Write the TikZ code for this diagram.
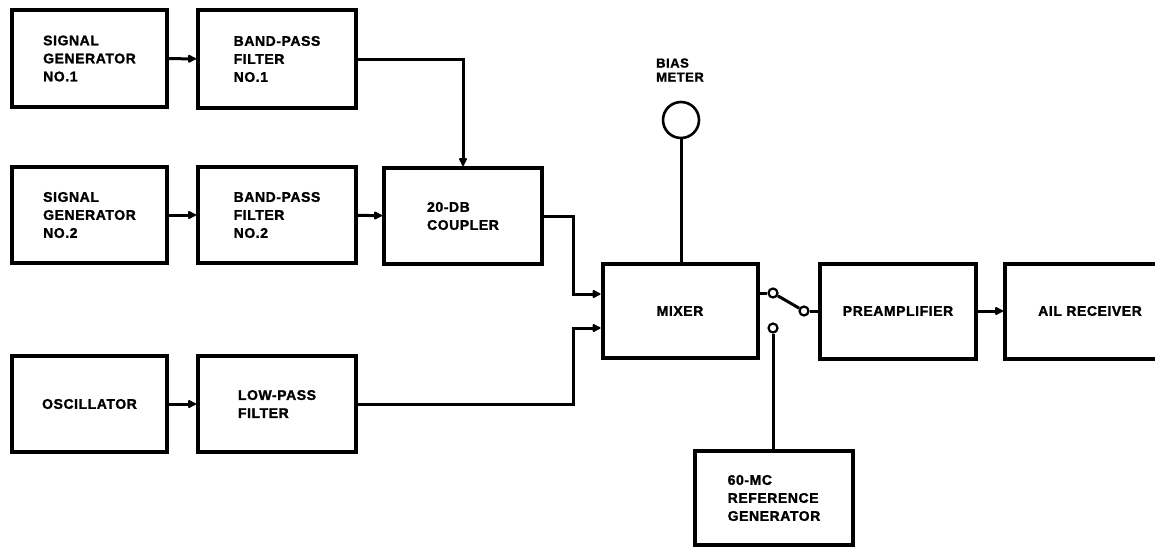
\documentclass[tikz,border=0pt]{standalone}
\usepackage{fontspec}
\newfontfamily\lbl{Liberation Sans Bold}[LetterSpace=4,FakeBold=1.5]
\usetikzlibrary{arrows.meta}
\begin{document}
\begin{tikzpicture}[x=1pt,y=-1pt,
  blk/.style={draw, line width=4pt, inner sep=0pt, align=left,
    font=\lbl\fontsize{14}{18}\selectfont},
  wire/.style={line width=3pt},
  arr/.style={wire, -{Latex[length=10pt,width=10pt,round]}},
  sw/.style={circle, draw, fill=white, line width=2.2pt, inner sep=0pt, minimum size=9pt},
  lbltext/.style={align=left, inner sep=0pt, font=\lbl\fontsize{13}{14}\selectfont}]
\useasboundingbox (0,0) rectangle (1155,547);
% blocks
\node[blk, minimum width=155pt, minimum height=97pt] (sg1) at (89.5,58.5) {SIGNAL\\GENERATOR\\NO.1};
\node[blk, minimum width=158pt, minimum height=98pt] (bpf1) at (277,59) {BAND-PASS\\FILTER\\NO.1};
\node[blk, minimum width=155pt, minimum height=96pt] (sg2) at (89.5,215) {SIGNAL\\GENERATOR\\NO.2};
\node[blk, minimum width=158pt, minimum height=96pt] (bpf2) at (277,215) {BAND-PASS\\FILTER\\NO.2};
\node[blk, minimum width=158pt, minimum height=96pt] (cpl) at (463,216) {20-DB\\COUPLER};
\node[blk, minimum width=155pt, minimum height=96pt] (osc) at (89.5,404) {OSCILLATOR};
\node[blk, minimum width=158pt, minimum height=96pt] (lpf) at (277,404) {LOW-PASS\\FILTER};
\node[blk, minimum width=155pt, minimum height=94pt] (mix) at (680,311) {MIXER};
\node[blk, minimum width=156pt, minimum height=95pt] (pre) at (898,311) {PREAMPLIFIER};
\node[blk, minimum width=170pt, minimum height=95pt] (ail) at (1090,311) {AIL RECEIVER};
\node[blk, minimum width=158pt, minimum height=94pt] (ref) at (774,498) {60-MC\\REFERENCE\\GENERATOR};
% bias meter
\node[circle, draw, line width=2.6pt, minimum size=36pt, inner sep=0pt] (meter) at (681,120) {};
\node[lbltext] (meterlbl) at (680,70) {BIAS\\METER};
% switch contacts
\node[sw] (s1) at (773,293) {};
\node[sw] (s2) at (804,311) {};
\node[sw] (s3) at (773,328) {};
% junction coordinates
\coordinate (j0) at (463,59);
\coordinate (j1) at (573,294);
\coordinate (j2) at (573,328);
% connectors
\draw[arr] (sg1) -- (bpf1);
\draw[arr] (sg2) -- (bpf2);
\draw[arr] (bpf2) -- (cpl);
\draw[arr] (osc) -- (lpf);
\draw[arr] (bpf1.east) -- (j0) -- (cpl.north);
\draw[arr] (cpl.east) -| (j1) -- (mix.west |- j1);
\draw[arr] (lpf.east) -| (j2) -- (mix.west |- j2);
\draw[wire] (meter) -- (meter |- mix.north);
\draw[wire] (mix.east |- s1) -- (s1);
\draw[wire] (s1) -- (s2);
\draw[wire] (s2) -- (pre.west |- s2);
\draw[wire] (s3) -- (s3 |- ref.north);
\draw[arr] (pre) -- (ail);
\end{tikzpicture}
\end{document}
